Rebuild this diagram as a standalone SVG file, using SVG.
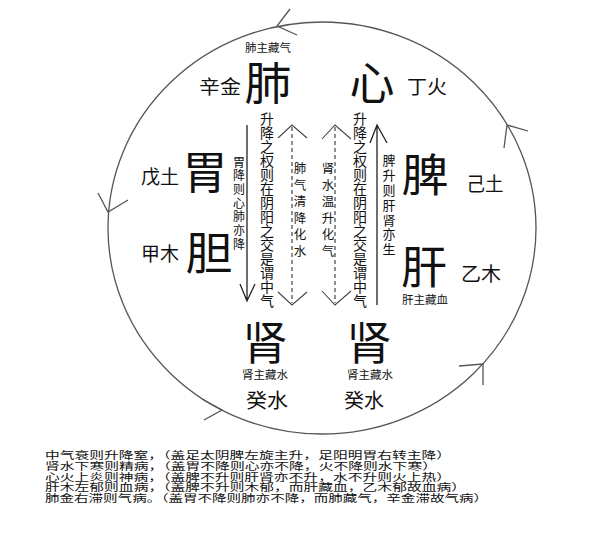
<svg xmlns="http://www.w3.org/2000/svg" width="589" height="546" viewBox="0 0 589 546">
<style>
text{font-family:"Noto Sans CJK SC","Noto Sans CJK TC",sans-serif;fill:#111}
.big{font-size:45px;text-anchor:middle}
.mid{font-size:19px;text-anchor:middle}
.sm{font-size:11.5px;text-anchor:middle}
.v{writing-mode:vertical-rl;text-anchor:start}
.ln{font-size:10px}
.circ{fill:none;stroke:#555;stroke-width:1.3}
.sol{fill:none;stroke:#222;stroke-width:1.3}
.dash{fill:none;stroke:#333;stroke-width:1.1;stroke-dasharray:4 3}
.head{fill:none;stroke:#444;stroke-width:1.1}
</style>
<rect width="589" height="546" fill="#fff"/>
<g id="connectors">
<ellipse class="circ" cx="322" cy="228" rx="214" ry="206"/>
<path class="circ" d="M290,9 L277,26 L297,35"/>
<path class="circ" d="M98,193 L108,212 L128,200"/>
<path class="circ" d="M504,148 L507,125 L528,131"/>
<path class="circ" d="M459,366 L483,364 L483,385"/>
<path class="circ" d="M202,399 L222,410 L204,420"/>
<path class="sol" d="M247,125 V300 M240,284 L247,301 L255,284"/>
<path class="sol" d="M377,305 V125 M370,143 L377,125 L387,143"/>
<path class="dash" d="M292,127 V303"/>
<path class="head" d="M278,138 L292,125 L307,138 M278,292 L292,305 L307,292"/>
<path class="dash" d="M335,127 V303"/>
<path class="head" d="M322,139 L335,125 L351,139 M322,291 L335,305 L351,291"/>
</g>
<g id="lung"><text class="big" x="268" y="100" textLength="47" lengthAdjust="spacingAndGlyphs">肺</text><text class="mid" x="220" y="94" textLength="42" lengthAdjust="spacingAndGlyphs">辛金</text><text class="sm" x="268" y="52">肺主藏气</text></g>
<g id="heart"><text class="big" x="372" y="100">心</text><text class="mid" x="427" y="94" textLength="40" lengthAdjust="spacingAndGlyphs">丁火</text></g>
<g id="stomach"><text class="big" x="205" y="189">胃</text><text class="mid" x="160" y="184" textLength="38" lengthAdjust="spacingAndGlyphs">戊土</text></g>
<g id="gallbladder"><text class="big" x="209" y="270" textLength="47" lengthAdjust="spacingAndGlyphs">胆</text><text class="mid" x="160" y="261" textLength="38" lengthAdjust="spacingAndGlyphs">甲木</text></g>
<g id="spleen"><text class="big" x="425" y="192" textLength="47" lengthAdjust="spacingAndGlyphs">脾</text><text class="mid" x="485" y="191" textLength="37" lengthAdjust="spacingAndGlyphs">己土</text></g>
<g id="liver"><text class="big" x="424" y="284" textLength="46" lengthAdjust="spacingAndGlyphs">肝</text><text class="mid" x="481" y="281" textLength="40" lengthAdjust="spacingAndGlyphs">乙木</text><text class="sm" x="425" y="304">肝主藏血</text></g>
<g id="kidney-left"><text class="big" x="265" y="360">肾</text><text class="sm" x="265" y="379">肾主藏水</text><text class="mid" style="font-size:20px" x="267" y="408" textLength="42" lengthAdjust="spacingAndGlyphs">癸水</text></g>
<g id="kidney-right"><text class="big" x="369" y="360">肾</text><text class="sm" x="370" y="379">肾主藏水</text><text class="mid" style="font-size:20px" x="364" y="408" textLength="40" lengthAdjust="spacingAndGlyphs">癸水</text></g>
<g id="note-left-main"><text class="v" style="font-size:14px" x="267" y="112">升降之权则在阴阳之交是谓中气</text></g>
<g id="note-right-main"><text class="v" style="font-size:14px" x="360" y="112">升降之权则在阴阳之交是谓中气</text></g>
<g id="note-stomach"><text class="v" style="font-size:12px;letter-spacing:1.7px" x="239" y="156">胃降则心肺亦降</text></g>
<g id="note-lung-qi"><text class="v" style="font-size:12.5px;letter-spacing:4.1px" x="300" y="162">肺气清降化水</text></g>
<g id="note-kidney-water"><text class="v" style="font-size:12.5px;letter-spacing:4.1px" x="328" y="162">肾水温升化气</text></g>
<g id="note-spleen"><text class="v" style="font-size:13px;letter-spacing:1.8px" x="389" y="154">脾升则肝肾亦生</text></g>
<g id="notes-bottom">
<text class="ln" x="45" y="459" textLength="406" lengthAdjust="spacingAndGlyphs">中气衰则升降窒，（盖足太阴脾左旋主升，足阳明胃右转主降）</text>
<text class="ln" x="45" y="470" textLength="392" lengthAdjust="spacingAndGlyphs">肾水下寒则精病，（盖胃不降则心亦不降，火不降则水下寒）</text>
<text class="ln" x="45" y="480.5" textLength="406" lengthAdjust="spacingAndGlyphs">心火上炎则神病，（盖脾不升则肝肾亦不升，水不升则火上热）</text>
<text class="ln" x="45" y="491" textLength="421" lengthAdjust="spacingAndGlyphs">肝木左郁则血病，（盖脾不升则木郁，而肝藏血，乙木郁故血病）</text>
<text class="ln" x="45" y="501.5" textLength="443" lengthAdjust="spacingAndGlyphs">肺金右滞则气病。（盖胃不降则肺亦不降，而肺藏气，辛金滞故气病）</text>
</g>
</svg>
